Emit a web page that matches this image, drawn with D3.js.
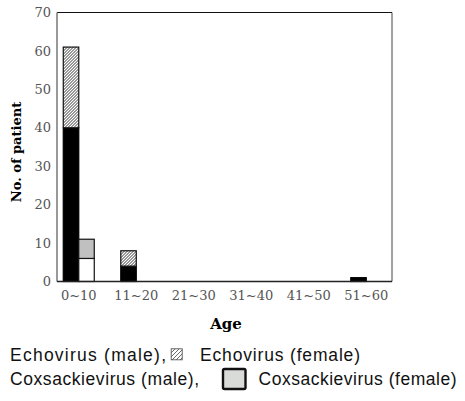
<!DOCTYPE html>
<html>
<head>
<meta charset="utf-8">
<script src="https://cdn.jsdelivr.net/npm/d3@7"></script>
<style>
  html, body { margin: 0; padding: 0; background: #fff; }
  svg { display: block; }
</style>
</head>
<body>
<div id="chart"></div>
<script>
const ageGroups = ['0~10', '11~20', '21~30', '31~40', '41~50', '51~60'];
const echoMale = [40, 4, 0, 0, 0, 1];
const echoFemale = [21, 4, 0, 0, 0, 0];
const coxMale = [6, 0, 0, 0, 0, 0];
const coxFemale = [5, 0, 0, 0, 0, 0];
const yTicks = [0, 10, 20, 30, 40, 50, 60, 70];

const width = 465, height = 401;
const M = { left: 57, top: 12.5, right: 73, bottom: 119.5 };
const iw = width - M.left - M.right;
const ih = height - M.top - M.bottom;

const svg = d3.select('#chart').append('svg')
    .attr('width', width).attr('height', height);

// hatch fills: dense one for the bars, looser one for the legend swatch
const defs = svg.append('defs');
const pat = defs.append('pattern').attr('id', 'hatch')
    .attr('patternUnits', 'userSpaceOnUse').attr('width', 3).attr('height', 3);
pat.append('rect').attr('width', 3).attr('height', 3).attr('fill', '#fff');
pat.append('path').attr('d', 'M-1,1 l2,-2 M0,3 l3,-3 M2,4 l2,-2')
    .attr('stroke', '#333').attr('stroke-width', 1);
const pat2 = defs.append('pattern').attr('id', 'hatch-legend')
    .attr('patternUnits', 'userSpaceOnUse').attr('width', 4).attr('height', 4);
pat2.append('rect').attr('width', 4).attr('height', 4).attr('fill', '#fff');
pat2.append('path').attr('d', 'M-1,1 l2,-2 M0,4 l4,-4 M3,5 l2,-2')
    .attr('stroke', '#444').attr('stroke-width', 0.8);

const g = svg.append('g').attr('transform', `translate(${M.left},${M.top})`);

const x = d3.scaleBand().domain(ageGroups).range([0, iw])
    .paddingInner(0.461).paddingOuter(0.1435).align(0.38);
const xs = d3.scaleBand().domain(['echo', 'cox']).range([0, x.bandwidth()]);
const y = d3.scaleLinear().domain([0, 70]).range([ih, 0]);

const serif = "'DejaVu Serif', 'Liberation Serif', serif";

const bars = [];
ageGroups.forEach((a, i) => {
    bars.push({ a, k: 'echo', y0: 0, y1: echoMale[i], fill: '#000', stroke: '#000' });
    bars.push({ a, k: 'echo', y0: echoMale[i], y1: echoMale[i] + echoFemale[i], fill: 'url(#hatch)', stroke: '#111' });
    bars.push({ a, k: 'cox', y0: 0, y1: coxMale[i], fill: '#fff', stroke: '#111' });
    bars.push({ a, k: 'cox', y0: coxMale[i], y1: coxMale[i] + coxFemale[i], fill: '#c0c0c0', stroke: '#111' });
});

g.selectAll('rect.bar').data(bars.filter((b) => b.y1 > b.y0)).enter().append('rect')
    .attr('class', 'bar')
    .attr('x', (b) => x(b.a) + xs(b.k))
    .attr('width', xs.bandwidth())
    .attr('y', (b) => y(b.y1))
    .attr('height', (b) => y(b.y0) - y(b.y1))
    .attr('fill', (b) => b.fill)
    .attr('stroke', (b) => b.stroke)
    .attr('stroke-width', 1.2);

// frame
g.append('line').attr('x1', 0).attr('x2', iw).attr('y1', 0).attr('y2', 0).attr('stroke', '#111');
g.append('line').attr('x1', iw).attr('x2', iw).attr('y1', 0).attr('y2', ih).attr('stroke', '#444');
g.append('line').attr('x1', 0).attr('x2', 0).attr('y1', 0).attr('y2', ih)
    .attr('stroke', '#777').attr('stroke-width', 1.5);
g.append('line').attr('x1', 0).attr('x2', iw).attr('y1', ih).attr('y2', ih)
    .attr('stroke', '#222').attr('stroke-width', 1.5);

// axes
const yAxis = g.append('g')
    .call(d3.axisLeft(y).tickValues(yTicks).tickSize(0).tickPadding(6));
yAxis.select('.domain').remove();
yAxis.selectAll('text').attr('fill', '#555').style('font-family', serif).style('font-size', '13px');

const xAxis = g.append('g').attr('transform', `translate(0,${ih})`)
    .call(d3.axisBottom(x).tickSize(0).tickPadding(9));
xAxis.select('.domain').remove();
xAxis.selectAll('text').attr('fill', '#555').style('font-family', serif).style('font-size', '13px');

g.append('text')
    .attr('transform', 'rotate(-90)')
    .attr('x', -(152 - M.top)).attr('y', -36)
    .attr('text-anchor', 'middle')
    .style('font-family', serif).style('font-size', '13px').style('font-weight', 'bold')
    .text('No. of patient');

svg.append('text')
    .attr('x', 226).attr('y', 329)
    .attr('text-anchor', 'middle')
    .style('font-family', serif).style('font-size', '15px').style('font-weight', 'bold')
    .text('Age');

// legend
const sans = "'Liberation Sans', Arial, sans-serif";
const lg = svg.append('g').style('font-family', sans).style('font-size', '17.5px').attr('fill', '#111');
lg.append('text').attr('x', 10).attr('y', 360.5).attr('textLength', 156).attr('lengthAdjust', 'spacing')
    .text('Echovirus (male),');
lg.append('rect').attr('x', 171.2).attr('y', 348.8).attr('width', 11).attr('height', 11)
    .attr('fill', 'url(#hatch-legend)').attr('stroke', '#555').attr('stroke-width', 0.9);
lg.append('text').attr('x', 200).attr('y', 360.5).attr('textLength', 160).attr('lengthAdjust', 'spacing')
    .text('Echovirus (female)');
lg.append('text').attr('x', 10).attr('y', 385).attr('textLength', 189).attr('lengthAdjust', 'spacing')
    .text('Coxsackievirus (male),');
lg.append('rect').attr('x', 223).attr('y', 369).attr('width', 22.5).attr('height', 20)
    .attr('fill', '#d8dbd8').attr('stroke', '#111').attr('stroke-width', 2.4).attr('rx', 1.5);
lg.append('text').attr('x', 258.5).attr('y', 385).attr('textLength', 198).attr('lengthAdjust', 'spacing')
    .text('Coxsackievirus (female)');
</script>
</body>
</html>
